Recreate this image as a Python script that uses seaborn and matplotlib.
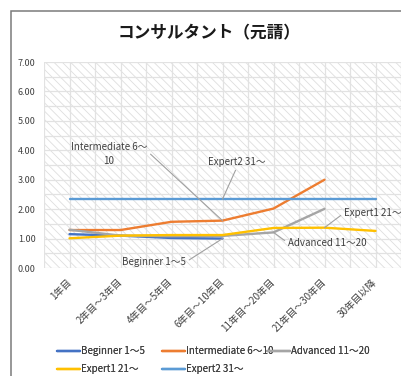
import matplotlib
matplotlib.use("Agg")
import matplotlib.pyplot as plt
import seaborn as sns
import pandas as pd
import numpy as np
from matplotlib.patches import Rectangle

# ---- data -------------------------------------------------------------
categories = ["1年目", "2年目～3年目", "4年目～5年目", "6年目～10年目",
              "11年目～20年目", "21年目～30年目", "30年目以降"]
series_names = ["Beginner 1～5", "Intermediate 6～10", "Advanced 11～20",
                "Expert1 21～", "Expert2 31～"]
beginner = [1.15, 1.10, 1.02, 1.00, None, None, None]
intermediate = [1.29, 1.29, 1.57, 1.61, 2.02, 3.00, None]
advanced = [1.30, 1.10, 1.08, 1.09, 1.21, 2.01, None]
expert1 = [1.01, 1.10, 1.12, 1.12, 1.36, 1.37, 1.26]
expert2 = [2.34, 2.34, 2.34, 2.34, 2.34, 2.34, 2.34]
series_values = [beginner, intermediate, advanced, expert1, expert2]
series_colors = ["#4472C4", "#ED7D31", "#A5A5A5", "#FFC000", "#5B9BD5"]
y_ticks = [0, 1, 2, 3, 4, 5, 6, 7]
y_tick_labels = ["0.00", "1.00", "2.00", "3.00", "4.00", "5.00", "6.00", "7.00"]
title = "コンサルタント（元請）"

rows = []
for name, vals in zip(series_names, series_values):
    for i, v in enumerate(vals):
        if v is not None:
            rows.append({"series": name, "pos": i, "value": v})
df = pd.DataFrame(rows)

# ---- figure -----------------------------------------------------------
W, H = 401, 376
sns.set_theme(style="white")
plt.rcParams["font.family"] = ["Noto Sans CJK JP", "DejaVu Sans"]
plt.rcParams["hatch.linewidth"] = 0.6
plt.rcParams["hatch.color"] = "#dedede"

fig = plt.figure(figsize=(W / 100, H / 100), dpi=100)
ax = fig.add_axes([44 / W, 1 - 268 / H, (401 - 44) / W, (268 - 62) / H])
ax.set_facecolor("white")

# diagonal hatch fill of the plot area
ax.add_patch(Rectangle((0, 0), 1, 1, transform=ax.transAxes, facecolor="none",
                       edgecolor="#dedede", hatch="\\\\\\\\", lw=0, zorder=0))

for k, (name, color) in enumerate(zip(series_names, series_colors)):
    sub = df[df["series"] == name]
    sns.lineplot(data=sub, x="pos", y="value", color=color, lw=1.7,
                 label=name, ax=ax, zorder=3 + k, legend=False)

ax.set_xlim(-0.5, len(categories) - 0.5)
ax.set_ylim(0, 7)
ax.set_yticks(y_ticks)
ax.set_yticklabels(y_tick_labels, fontsize=6.5, color="#404040")
ax.set_xticks(range(len(categories)))
ax.set_xticklabels(categories, fontsize=7, color="#404040", rotation=45,
                   ha="right", va="center", rotation_mode="anchor")
ax.tick_params(axis="x", length=0, pad=9)
ax.tick_params(axis="y", length=0, pad=6)
ax.set_xlabel("")
ax.set_ylabel("")

# grid every half unit / half category
for yv in np.arange(0, 7.01, 0.5):
    ax.axhline(yv, color="#e2e2e2", lw=0.9, zorder=1)
for xv in np.arange(-0.5, len(categories) - 0.49, 0.5):
    ax.axvline(xv, color="#e2e2e2", lw=0.9, zorder=1)
for s in ax.spines.values():
    s.set_visible(False)

# series-name labels with leader lines
def fpx(x, y):
    return (x, H - y)

label_specs = [
    # series index, category index, text, text px position, ha, relpos
    (1, 3, "Intermediate 6～\n10", (109, 154), "center", (1.0, 0.62)),
    (4, 3, "Expert2 31～", (237, 162), "center", (0.5, 0.0)),
    (0, 3, "Beginner 1～5", (154, 262), "center", (1.0, 0.5)),
    (2, 4, "Advanced 11～20", (288, 243), "left", (0.0, 0.5)),
    (3, 5, "Expert1 21～", (344, 213), "left", (0.0, 0.5)),
]
for si, ci, txt, (tx, ty), ha, rel in label_specs:
    ax.annotate(txt, xy=(ci, series_values[si][ci]), xycoords="data",
                xytext=fpx(tx, ty), textcoords="figure pixels",
                ha=ha, va="center", multialignment="center", linespacing=1.5,
                fontsize=7, color="#404040", annotation_clip=False, zorder=10,
                arrowprops=dict(arrowstyle="-", color="#a0a0a0", lw=0.8,
                                shrinkA=0, shrinkB=0, relpos=rel))

# title
fig.text(209 / W, 1 - 33 / H, title, ha="center", va="center",
         fontsize=12, fontweight="bold", color="#1a1a1a")

# legend in three columns below the chart
handles, labels = ax.get_legend_handles_labels()
hmap = dict(zip(labels, handles))
columns = [
    (57, [series_names[0], series_names[3]]),
    (162, [series_names[1], series_names[4]]),
    (267, [series_names[2]]),
]
for x0, names in columns:
    leg = fig.legend([hmap[n] for n in names], names, loc="upper left",
                     bbox_to_anchor=(x0 / W, 1 - 346 / H), frameon=False,
                     fontsize=7, handlelength=2.35, handletextpad=0.15,
                     borderpad=0, borderaxespad=0, labelspacing=0.86)
    for t in leg.get_texts():
        t.set_color("#404040")
    fig.add_artist(leg)

# outer frame
fig.add_artist(Rectangle((11 / W, -0.1), 1.2, 1 - 11 / H + 0.1,
                         transform=fig.transFigure, facecolor="none",
                         edgecolor="#7a7a7a", lw=1.1))

fig.savefig("out.png", dpi=100)
